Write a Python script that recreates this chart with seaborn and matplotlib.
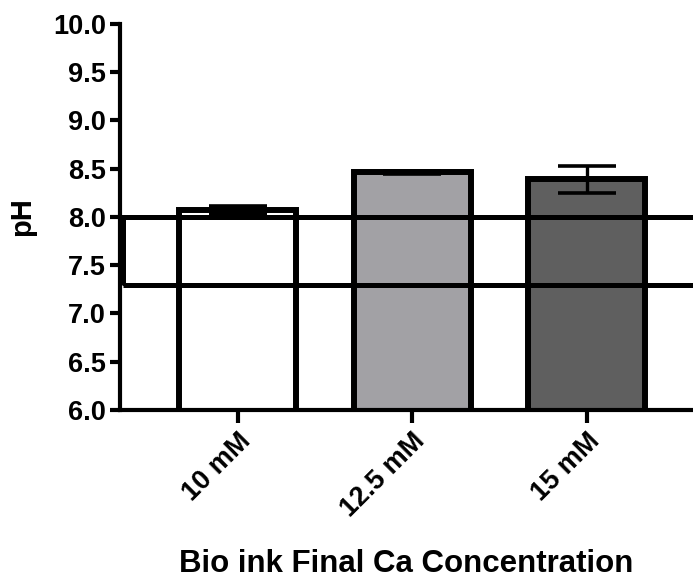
import matplotlib
matplotlib.use("Agg")
import matplotlib.pyplot as plt
import seaborn as sns
import pandas as pd
from matplotlib.patches import Rectangle

# Data
concentrations = ["10 mM", "12.5 mM", "15 mM"]
ph_mean = [8.07, 8.46, 8.39]
ph_err = [0.04, 0.02, 0.14]
bar_colors = ["#ffffff", "#a2a1a5", "#5f5f5f"]
range_low, range_high = 7.3, 8.0

sns.set_theme(style="ticks")
plt.rcParams["font.family"] = ["Liberation Sans", "DejaVu Sans"]
plt.rcParams["font.weight"] = "bold"
plt.rcParams["text.color"] = "black"
plt.rcParams["axes.labelcolor"] = "black"
plt.rcParams["xtick.color"] = "black"
plt.rcParams["ytick.color"] = "black"

df = pd.DataFrame({"conc": concentrations, "ph": ph_mean})

fig = plt.figure(figsize=(6.93, 5.8), dpi=100)
ax = fig.add_axes([0.173, 0.293, 0.827, 0.666])

sns.barplot(data=df, x="conc", y="ph", hue="conc", palette=bar_colors,
            legend=False, errorbar=None, width=0.67, edgecolor="black",
            linewidth=4.3, ax=ax, zorder=2)

ax.set_ylim(6.0, 10.0)

# physiological pH band outline
band = Rectangle((0.006, range_low), 1.2, range_high - range_low,
                 transform=ax.get_yaxis_transform(), fill=False,
                 edgecolor="black", linewidth=3.6, zorder=3, clip_on=True)
ax.add_patch(band)

ax.errorbar(range(len(ph_mean)), ph_mean, yerr=ph_err, fmt="none",
            ecolor="black", elinewidth=2.4, capsize=21, capthick=2.6, zorder=4)

ax.set_xlim(-0.676, 2.61)
ax.set_yticks([6.0, 6.5, 7.0, 7.5, 8.0, 8.5, 9.0, 9.5, 10.0])
ax.set_yticklabels([f"{v:.1f}" for v in ax.get_yticks()])

for side in ["top", "right"]:
    ax.spines[side].set_visible(False)
for side in ["left", "bottom"]:
    ax.spines[side].set_linewidth(3)
    ax.spines[side].set_color("black")

ax.tick_params(axis="y", length=7, width=3, labelsize=19.5, pad=3, colors="black")
ax.tick_params(axis="x", length=9, width=3, labelsize=19.5, pad=4, colors="black")
for lbl in ax.get_xticklabels():
    lbl.set_rotation(45)
    lbl.set_ha("right")
    lbl.set_rotation_mode("anchor")
    lbl.set_fontweight("bold")
for lbl in ax.get_yticklabels():
    lbl.set_fontweight("bold")

ax.set_ylabel("pH", fontsize=21, fontweight="bold", labelpad=12, color="black")
ax.set_xlabel("Bio ink Final Ca Concentration", fontsize=22.5,
              fontweight="bold", labelpad=19, color="black")

fig.savefig("out.png", dpi=100)
